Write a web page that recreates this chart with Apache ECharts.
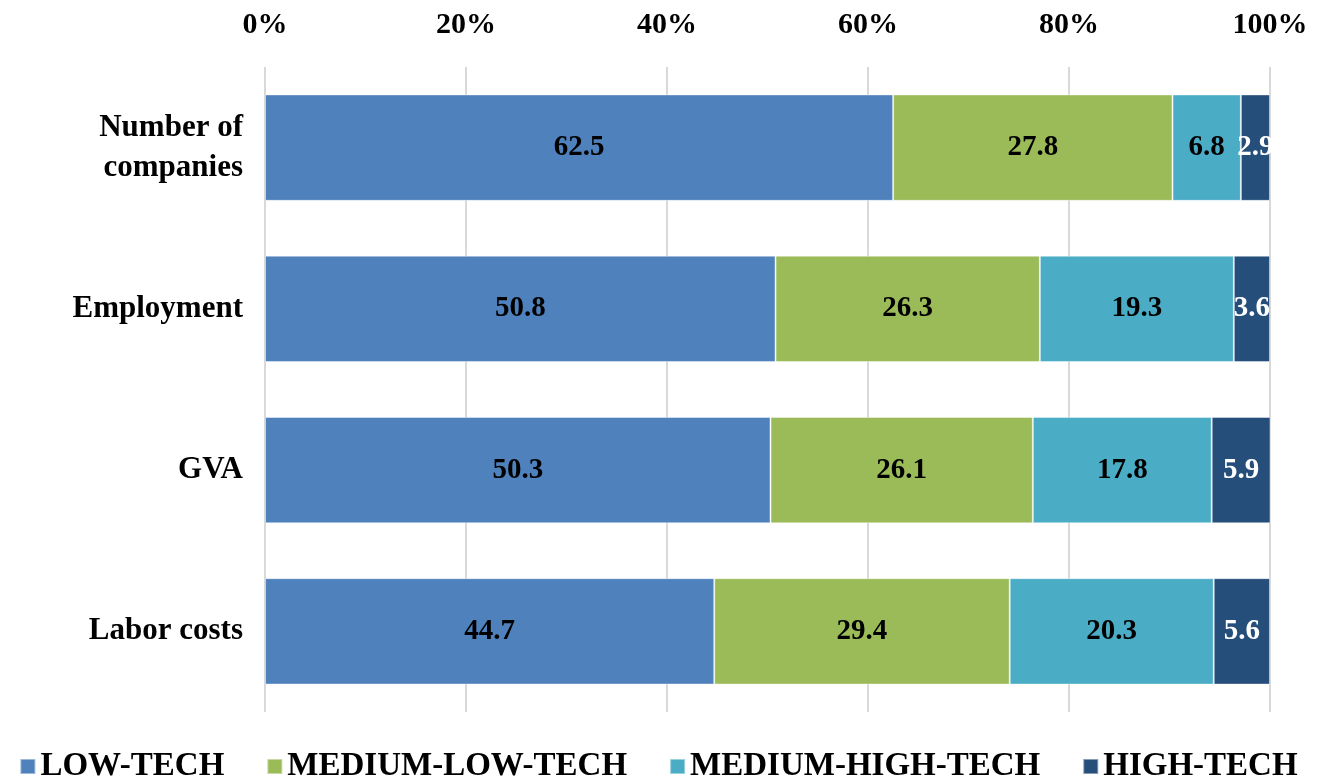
<!DOCTYPE html>
<html>
<head>
<meta charset="utf-8">
<title>Technology intensity shares</title>
<script src="https://cdn.jsdelivr.net/npm/echarts@6/dist/echarts.min.js"></script>
<style>
  html, body { margin: 0; padding: 0; background: #fff; }
  #chart { width: 1317px; height: 780px; }
</style>
</head>
<body>
<div id="chart"></div>
<script>
// categories, top to bottom
var categories = ['Number of\ncompanies', 'Employment', 'GVA', 'Labor costs'];
var seriesNames = ['LOW-TECH', 'MEDIUM-LOW-TECH', 'MEDIUM-HIGH-TECH', 'HIGH-TECH'];
var lowTech = [62.5, 50.8, 50.3, 44.7];
var mediumLowTech = [27.8, 26.3, 26.1, 29.4];
var mediumHighTech = [6.8, 19.3, 17.8, 20.3];
var highTech = [2.9, 3.6, 5.9, 5.6];
var xTicks = [0, 20, 40, 60, 80, 100];

var colors = ['#4f81bd', '#9bbb59', '#4bacc6', '#254e7a'];
var labelColors = ['#000', '#000', '#000', '#fff'];
var font = '"Liberation Serif", "Times New Roman", serif';

var myChart = echarts.init(document.getElementById('chart'));

var allData = [lowTech, mediumLowTech, mediumHighTech, highTech];
var series = seriesNames.map(function (name, i) {
  return {
    name: name,
    type: 'bar',
    stack: 'total',
    barWidth: '66%',
    data: allData[i],
    itemStyle: { color: colors[i], borderColor: 'rgba(255,255,255,0.45)', borderWidth: 1 },
    label: {
      show: true,
      position: 'inside',
      color: labelColors[i],
      fontFamily: font,
      fontWeight: 'bold',
      fontSize: 29,
      formatter: function (p) { return p.value.toFixed(1); }
    }
  };
});

var option = {
  animation: false,
  color: colors,
  grid: { left: 265, right: 47, top: 67, bottom: 68 },
  legend: {
    bottom: -8,
    left: 'center',
    icon: 'rect',
    itemWidth: 15,
    itemHeight: 15,
    itemGap: 42,
    textStyle: { fontFamily: font, fontWeight: 'bold', fontSize: 33, color: '#000' },
    data: seriesNames
  },
  xAxis: {
    type: 'value',
    position: 'top',
    min: xTicks[0],
    max: xTicks[xTicks.length - 1],
    interval: 20,
    axisLine: { show: false },
    axisTick: { show: false },
    splitLine: { show: true, lineStyle: { color: '#d9d9d9', width: 2 } },
    axisLabel: {
      margin: 27,
      color: '#000',
      fontFamily: font,
      fontWeight: 'bold',
      fontSize: 30,
      formatter: '{value}%'
    }
  },
  yAxis: {
    type: 'category',
    inverse: true,
    data: categories,
    axisLine: { show: false },
    axisTick: { show: false },
    axisLabel: {
      margin: 22,
      color: '#000',
      fontFamily: font,
      fontWeight: 'bold',
      fontSize: 31,
      lineHeight: 40
    }
  },
  series: series
};

myChart.setOption(option);
</script>
</body>
</html>
